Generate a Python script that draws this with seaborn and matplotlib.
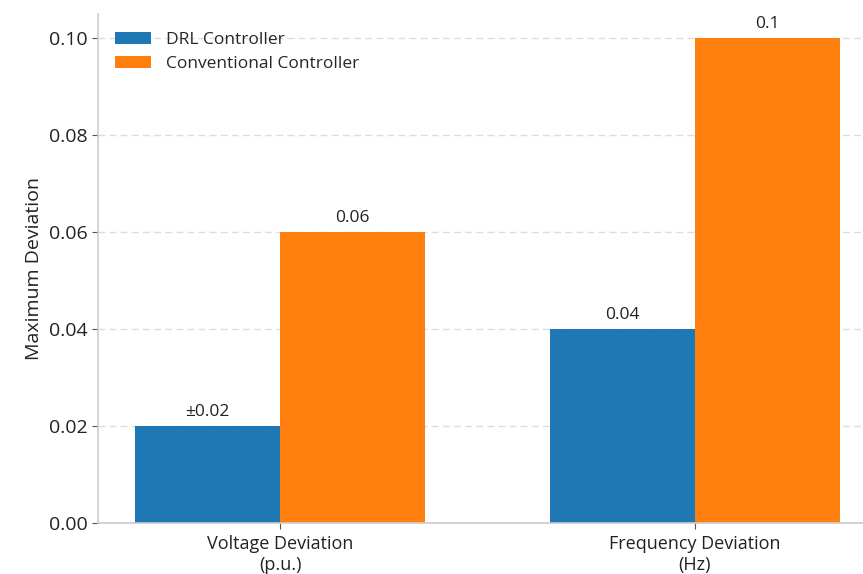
"""Max deviation comparison: DRL vs conventional controller."""
import matplotlib
matplotlib.use("Agg")
import matplotlib.pyplot as plt
import pandas as pd
import seaborn as sns

CATEGORIES = ["Voltage Deviation\n(p.u.)", "Frequency Deviation\n(Hz)"]
CONTROLLERS = ["DRL Controller", "Conventional Controller"]
DRL_VALUES = [0.02, 0.04]
CONV_VALUES = [0.06, 0.10]
BAR_LABELS = {
    "DRL Controller": ["±0.02", "0.04"],
    "Conventional Controller": ["0.06", "0.1"],
}
COLORS = ["#1f77b4", "#ff7f0e"]

df = pd.DataFrame({
    "metric": CATEGORIES * 2,
    "controller": [CONTROLLERS[0]] * 2 + [CONTROLLERS[1]] * 2,
    "value": DRL_VALUES + CONV_VALUES,
})

sns.set_style("white")
plt.rcParams["font.family"] = ["Open Sans", "DejaVu Sans"]

fig = plt.figure(figsize=(8.63, 5.74), dpi=100)
ax = fig.add_axes([0.1136, 0.0889, 0.8864, 0.8867])

sns.barplot(data=df, x="metric", y="value", hue="controller",
            palette=COLORS, width=0.7, saturation=1, linewidth=0, ax=ax)

# value labels above each bar
for container, name in zip(ax.containers, CONTROLLERS):
    for bar, text in zip(container, BAR_LABELS[name]):
        ax.text(bar.get_x() + bar.get_width() / 2, bar.get_height() + 0.0013,
                text, ha="center", va="bottom", fontsize=12.5, color="#222222")

ax.set_xlim(-0.4386, 1.405)
ax.set_ylim(0, 0.105)
ax.set_yticks([0, 0.02, 0.04, 0.06, 0.08, 0.10])
ax.set_yticklabels([f"{v:.2f}" for v in [0, 0.02, 0.04, 0.06, 0.08, 0.10]])
ax.set_xlabel("")
ax.set_ylabel("Maximum Deviation", fontsize=14, color="#222222")
ax.tick_params(axis="y", labelsize=14, length=4, color="#555555", left=True,
               labelcolor="#222222")
ax.tick_params(axis="x", labelsize=13, length=4, color="#555555", bottom=True,
               labelcolor="#222222", pad=5)
for lbl in ax.get_xticklabels():
    lbl.set_linespacing(1.15)
ax.yaxis.grid(True, linestyle=(0, (5, 3)), color="#dddddd", linewidth=1.0)
ax.set_axisbelow(True)

for side in ["top", "right"]:
    ax.spines[side].set_visible(False)
for side in ["left", "bottom"]:
    ax.spines[side].set_color("#cccccc")
    ax.spines[side].set_linewidth(1.2)

ax.legend(loc="upper left", frameon=False, fontsize=12.5,
          handlelength=2.1, handleheight=0.7, handletextpad=0.85,
          labelspacing=0.45, borderaxespad=0.3,
          bbox_to_anchor=(0.006, 0.988))

fig.savefig("out.png", dpi=100)
plt.close(fig)
